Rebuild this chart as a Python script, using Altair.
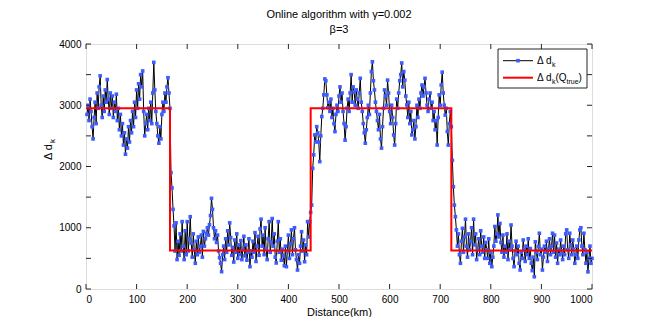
import altair as alt
import pandas as pd

# ---- data ----
# measured series, one value every 2 km from 2 km to 1000 km
seg1 = [2850, 3000, 2750, 3100, 2900, 2650, 2450, 2800, 3050, 2700,
        3200, 2950, 3300, 3480, 3000, 2800, 3150, 2900, 3250, 3050,
        3420, 3100, 2850, 3200, 2950, 3150, 2800, 3050, 2900, 3180,
        2750, 2950, 2600, 2850, 2500, 2700, 2350, 2550, 2200, 2450,
        2300, 2650, 2400, 2750, 2550, 2900, 2650, 3050, 2800, 3250,
        2950, 3350, 3100, 3500, 3300, 3560, 2900, 2500, 2700, 2850,
        2600, 2950, 2750, 3050, 2700, 3200, 3700, 3250, 2900, 2700,
        2500, 2380, 2650, 2450, 2850, 3050, 2900, 3200, 3050, 3300,
        3450, 3200, 2950]
seg2 = [1900, 1650, 1300, 1030, 620, 1080, 480, 780, 550, 900,
        620, 1100, 700, 480, 950, 560, 1100, 620, 820, 1180,
        750, 520, 900, 640, 420, 780, 560, 850, 600, 700,
        880, 520, 940, 700, 820, 910, 1000, 880, 1050, 1200,
        1480, 1300, 1000, 820, 950, 760, 880, 620, 510, 420,
        283, 560, 700, 480, 820, 600, 950, 720, 1080, 840,
        550, 680, 440, 800, 600, 900, 500, 720, 560, 790,
        480, 650, 860, 540, 720, 470, 600, 820, 365, 620,
        520, 780, 600, 920, 450, 700, 860, 550, 980, 1140,
        700, 880, 560, 1000, 650, 480, 820, 1100, 600, 760,
        1150, 700, 900, 520, 425, 780, 1100, 600, 820, 470,
        650, 540, 380, 700, 365, 620, 880, 500, 740, 965,
        560, 820, 1000, 640, 480, 310, 560, 420, 700, 935,
        620, 800, 445, 720, 560, 1100, 850, 1100, 1250]
seg3 = [1370, 1970, 2190, 2515, 2400, 2650, 2550, 2400, 2080, 2500,
        2815, 2950, 3170, 3430, 3400, 3170, 2960, 3050, 2900, 3100,
        2800, 2950, 2700, 2570, 2850, 3000, 2900, 3150, 3300, 3050,
        3200, 2900, 2700, 2430, 2650, 2950, 3100, 2900, 3200, 3500,
        3050, 3300, 3220, 3000, 3250, 3100, 2950, 3200, 3440, 3050,
        2900, 2700, 2550, 2380, 2600, 2800, 3000, 2850, 3200, 3550,
        3710, 3400, 3250, 3050, 2900, 2750, 2600, 2850, 2450, 2300,
        2650, 2950, 3250, 3150, 3000, 3410, 3200, 2900, 2700, 3000,
        2800, 2515, 2350, 2700, 3100, 2950, 3200, 3400, 3500, 3690,
        3300, 3550, 3410, 3150, 3005, 2800, 3050, 2700, 2900, 2515,
        2600, 2750, 2450, 2650, 3000, 2800, 3100, 2950, 3200, 3330,
        3150, 3300, 3440, 3200, 3000, 2900, 3100, 3200, 2950, 3050,
        2750, 2900, 2600, 2750, 2350, 2800, 3170, 3000, 3330, 3540,
        3200, 3000, 2840, 2950, 2570, 2350, 2700, 2900, 2650]
seg4 = [2100, 1670, 1370, 1180, 965, 700, 900, 560, 420, 780,
        990, 600, 850, 1140, 700, 520, 900, 640, 780, 1000,
        560, 1140, 720, 900, 480, 650, 820, 560, 950, 700,
        600, 850, 500, 760, 640, 500, 820, 420, 600, 365,
        520, 700, 1020, 780, 900, 1210, 850, 1070, 760, 600,
        880, 520, 700, 600, 900, 480, 780, 640, 1045, 700,
        500, 365, 620, 780, 560, 700, 420, 310, 600, 500,
        800, 640, 450, 700, 560, 820, 500, 660, 420, 300,
        520, 200, 770, 600, 480, 700, 910, 560, 650, 310,
        520, 700, 600, 780, 450, 650, 820, 560, 700, 910,
        600, 880, 520, 750, 420, 650, 560, 800, 620, 480,
        700, 560, 900, 965, 640, 500, 910, 720, 560, 800,
        650, 420, 560, 700, 500, 800, 965, 1000, 700, 560,
        910, 640, 420, 600, 280, 500, 700, 420, 500]
delta_d = seg1 + seg2 + seg3 + seg4
distance = list(range(2, 2 * len(delta_d) + 1, 2))

# true piecewise-constant level
step_x = [0, 166, 166, 444, 444, 722, 722, 1000]
step_y = [2950, 2950, 630, 630, 2950, 2950, 630, 630]

x_ticks = [0, 100, 200, 300, 400, 500, 600, 700, 800, 900, 1000]
y_ticks = [0, 500, 1000, 1500, 2000, 2500, 3000, 3500, 4000]

W, H = 506, 245
FONT = "Liberation Sans"
BOX = "#262626"
BLUE = "#3d5cff"

series = pd.DataFrame({"x": distance, "y": delta_d})
step = pd.DataFrame({"x": step_x, "y": step_y, "o": list(range(len(step_x)))})
xt = pd.DataFrame({"v": x_ticks})
yt = pd.DataFrame({"v": y_ticks})
one = pd.DataFrame({"a": [0]})

xs = alt.Scale(domain=[0, 1000], nice=False, zero=False)
ys = alt.Scale(domain=[0, 4000], nice=False, zero=False)

xaxis = alt.Axis(values=x_ticks, format="d", ticks=False, domain=False, grid=False,
                 labelFont=FONT, labelFontSize=10, labelColor="#000",
                 labelPadding=5, title="Distance(km)", titleFont=FONT,
                 titleFontSize=11, titleFontWeight="normal", titleColor="#000",
                 titlePadding=2)
yaxis = alt.Axis(values=y_ticks, format="d", ticks=False, domain=False, grid=False,
                 labelFont=FONT, labelFontSize=10, labelColor="#000",
                 labelPadding=5, title=None)

line = alt.Chart(series).mark_line(color="black", strokeWidth=1).encode(
    x=alt.X("x:Q", scale=xs, axis=xaxis),
    y=alt.Y("y:Q", scale=ys, axis=yaxis),
)
pts = alt.Chart(series).mark_square(color=BLUE, size=13, opacity=1).encode(
    x=alt.X("x:Q", scale=xs), y=alt.Y("y:Q", scale=ys))
red = alt.Chart(step).mark_line(color="#ff0000", strokeWidth=2).encode(
    x=alt.X("x:Q", scale=xs), y=alt.Y("y:Q", scale=ys), order="o:Q")

tick_b = alt.Chart(xt).mark_rule(color=BOX, strokeWidth=1).encode(
    x=alt.X("v:Q", scale=xs), y=alt.value(H), y2=alt.value(H - 5))
tick_t = alt.Chart(xt).mark_rule(color=BOX, strokeWidth=1).encode(
    x=alt.X("v:Q", scale=xs), y=alt.value(0), y2=alt.value(5))
tick_l = alt.Chart(yt).mark_rule(color=BOX, strokeWidth=1).encode(
    y=alt.Y("v:Q", scale=ys), x=alt.value(0), x2=alt.value(5))
tick_r = alt.Chart(yt).mark_rule(color=BOX, strokeWidth=1).encode(
    y=alt.Y("v:Q", scale=ys), x=alt.value(W), x2=alt.value(W - 5))

# legend (drawn by hand for the subscripts)
LX0, LX1, LY0, LY1 = 412, 501, 5, 44
r1, r2 = 16.7, 33.7
leg_box = alt.Chart(one).mark_rect(fill="white", stroke=BOX, strokeWidth=1).encode(
    x=alt.value(LX0), x2=alt.value(LX1), y=alt.value(LY0), y2=alt.value(LY1))
leg_l1 = alt.Chart(one).mark_rule(color="black", strokeWidth=1).encode(
    x=alt.value(417), x2=alt.value(447), y=alt.value(r1))
leg_p1 = alt.Chart(one).mark_square(color=BLUE, size=13, opacity=1).encode(
    x=alt.value(432), y=alt.value(r1))
leg_l2 = alt.Chart(one).mark_rule(color="#ff0000", strokeWidth=2).encode(
    x=alt.value(417), x2=alt.value(447), y=alt.value(r2))


def txt(s, x, y, size, angle=0):
    return alt.Chart(one).mark_text(
        text=s, font=FONT, fontSize=size, color="black", align="left",
        baseline="alphabetic", angle=angle).encode(x=alt.value(x), y=alt.value(y))


leg_txt = [
    txt("Δ d", 451, r1 + 3.5, 10), txt("k", 466, r1 + 6, 7),
    txt("Δ d", 451, r2 + 3.5, 10), txt("k", 466, r2 + 6, 7),
    txt("(Q", 469.5, r2 + 3.5, 10), txt("true", 480.5, r2 + 6, 7),
    txt(")", 492.5, r2 + 3.5, 10),
]
ylab = [txt("Δ d", -34, 116, 11, 270), txt("k", -31, 99, 8, 270)]

chart = alt.layer(
    line, pts, red, tick_b, tick_t, tick_l, tick_r,
    leg_box, leg_l1, leg_p1, leg_l2, *leg_txt, *ylab
).properties(
    width=W, height=H,
    title=alt.TitleParams(text=["Online algorithm with γ=0.002", "β=3"],
                          font=FONT, fontSize=11, fontWeight="normal",
                          color="#000", anchor="middle", offset=4, lineHeight=15),
    autosize=alt.AutoSizeParams(type="none"),
    padding={"left": 78, "top": 36, "right": 54, "bottom": 28},
).configure_view(stroke=BOX, strokeWidth=1).configure(background="white")

chart.save("out.html", embed_options={"renderer": "svg", "actions": False})
